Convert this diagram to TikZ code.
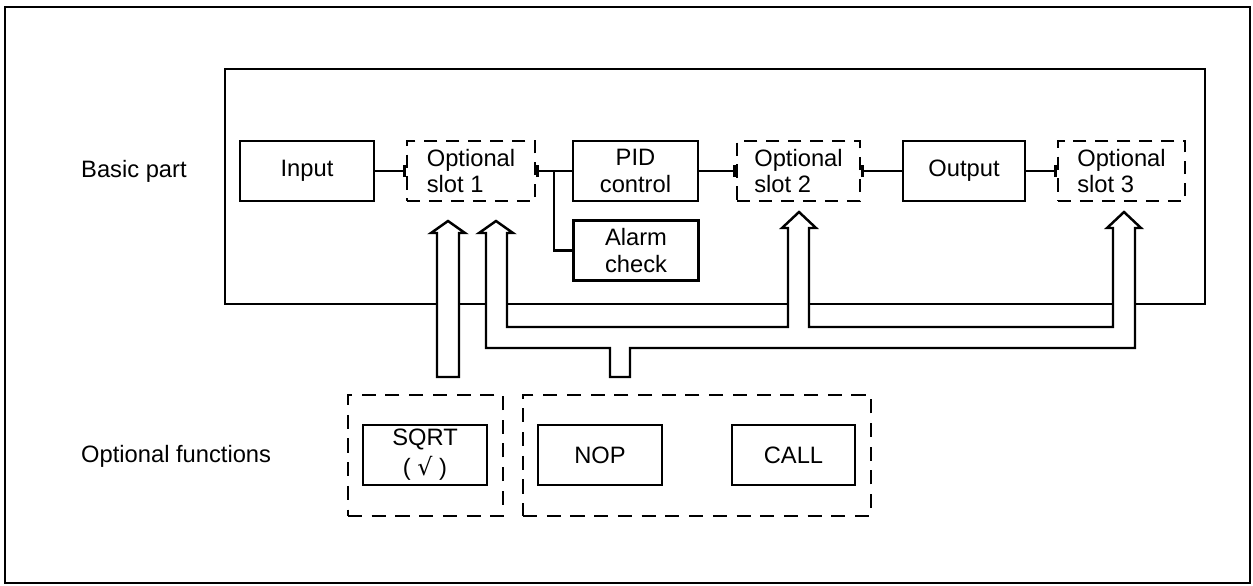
\documentclass[tikz,border=0pt]{standalone}
\usepackage{fontspec}
\setmainfont{Liberation Sans}
\newfontfamily\symfont{DejaVu Sans}
\usetikzlibrary{arrows.meta,calc}
\tikzset{
  blk/.style    = {draw, line width=1.4pt, rectangle, minimum height=1.2cm,
                   minimum width=2.5cm, inner sep=2pt, align=center},
  slot/.style   = {blk, dash pattern=on 7.5pt off 5pt, align=left},
  grp/.style    = {draw, line width=1.4pt, rectangle, dash pattern=on 8pt off 5.5pt,
                   minimum height=2.42cm},
  wire/.style   = {line width=1.4pt},
  frame/.style  = {line width=1.3pt},
  hollow/.style = {draw, fill=white, line width=1.4pt, line join=miter},
}

\begin{document}
\begin{tikzpicture}[x=0.02cm,y=-0.02cm,font=\fontsize{13.5}{15}\selectfont]
\useasboundingbox (0,0) rectangle (1253,585);
% frames
\draw[frame] (5,7) rectangle (1250,583);
\draw[frame] (225,69) rectangle (1205,304);
% side labels
\node[anchor=west] (lblbasic) at (75,171) {Basic part};
\node[anchor=west] (lblopt) at (75,456) {Optional functions};
% basic part
\node[blk, minimum width=2.68cm] (input) at (307,171) {Input};
\node[slot, minimum width=2.56cm] (slot1) at (471,171) {Optional\\slot 1};
\node[blk] (pid) at (635.5,171) {PID\\control};
\node[blk] (alarm) at (636,250.5) {Alarm\\check};
\node[slot, minimum width=2.46cm] (slot2) at (798.5,171) {Optional\\slot 2};
\node[blk, minimum width=2.44cm] (output) at (964,171) {Output};
\node[slot, minimum width=2.54cm] (slot3) at (1121.5,171) {Optional\\slot 3};
% connections
\draw[wire,-{Bar[width=7pt]}] (input) -- (slot1);
\draw[wire,{Bar[width=7pt]}-] (slot1) -- (pid);
\coordinate (br) at ($(slot1.east)!.5!(pid.west)$);
\draw[wire] (br) |- (alarm.west);
\draw[wire,-{Bar[width=7pt]}] (pid) -- (slot2);
\draw[wire,{Bar[width=7pt]}-] (slot2) -- (output);
\draw[wire,-{Bar[width=7pt]}] (output) -- (slot3);
% optional functions
\node[grp, minimum width=3.1cm] (grpsqrt) at (425.5,455.5) {};
\node[grp, minimum width=6.96cm] (grpcall) at (697,455.5) {};
\node[blk, minimum width=2.48cm] (sqrt) at (425,455) {SQRT\\[2pt]( {\symfont √} )};
\node[blk, minimum width=2.48cm] (nop) at (600,455) {NOP};
\node[blk, minimum width=2.46cm] (call) at (793.5,455) {CALL};
% hollow arrows into the slots
\draw[hollow] (437,377) -- (437,233) -- (431,233) -- (448,221) -- (465,233)
  -- (459,233) -- (459,377) -- cycle;
\draw[hollow] (610,377) -- (610,348) -- (486,348) -- (486,233) -- (479,233)
  -- (496,221) -- (513,233) -- (507,233) -- (507,327) -- (788,327)
  -- (788,228) -- (782,228) -- (799,212) -- (816,228) -- (809,228)
  -- (809,327) -- (1113,327) -- (1113,228) -- (1107,228) -- (1124,212)
  -- (1141,228) -- (1135,228) -- (1135,348) -- (630,348) -- (630,377) -- cycle;
\end{tikzpicture}
\end{document}
